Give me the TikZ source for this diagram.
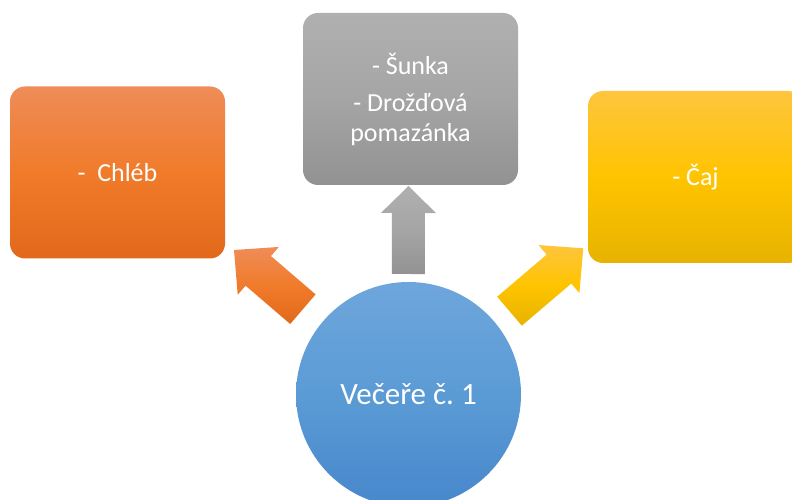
\documentclass[tikz,border=0pt]{standalone}
\usepackage{fontspec}
\setmainfont{Carlito}
\usetikzlibrary{calc}
\frenchspacing

% gradient fills (top / middle / bottom)
\tikzset{
  orangefill/.style={top color=orTop, bottom color=orBot, middle color=orMid},
  grayfill/.style={top color=grTop, bottom color=grBot, middle color=grMid},
  yellowfill/.style={top color=yeTop, bottom color=yeBot, middle color=yeMid},
  bluefill/.style={top color=blTop, bottom color=blBot, middle color=blMid},
  itembox/.style={rounded corners=15pt, minimum width=215pt, minimum height=172pt,
    inner sep=0pt, text=white, align=center, font=\fontsize{26}{30}\selectfont},
  hubcircle/.style={circle, minimum size=225pt, inner sep=0pt, text=white,
    font=\fontsize{31}{37}\selectfont},
}
\definecolor{orTop}{HTML}{EF8C58}
\definecolor{orMid}{HTML}{F07B2A}
\definecolor{orBot}{HTML}{E2691B}
\definecolor{grTop}{HTML}{B0B0B0}
\definecolor{grMid}{HTML}{A5A5A5}
\definecolor{grBot}{HTML}{929292}
\definecolor{yeTop}{HTML}{FEC53E}
\definecolor{yeMid}{HTML}{FFC400}
\definecolor{yeBot}{HTML}{E7B300}
\definecolor{blTop}{HTML}{6EA6DC}
\definecolor{blMid}{HTML}{5B9BD5}
\definecolor{blBot}{HTML}{4787CC}

% block arrow: tail, tip, half shaft width, half head width, head length, fill style
\newcommand\blockarrow[6]{%
  \coordinate (hb) at ($(#2)!#5!(#1)$);
  \shade[#6] ($(#1)!#3!90:(#2)$) -- ($(hb)!#3!90:(#2)$) -- ($(hb)!#4!90:(#2)$)
    -- (#2) -- ($(hb)!#4!-90:(#2)$) -- ($(hb)!#3!-90:(#2)$)
    -- ($(#1)!#3!-90:(#2)$) -- cycle;
}

\begin{document}
\begin{tikzpicture}[x=1pt, y=1pt]
  \useasboundingbox (0,0) rectangle (792,500);
  \fill[white] (0,0) rectangle (792,500);

  % three item boxes
  \node[itembox, orangefill] (bread) at (117.5,327.5) {-\hspace{0.45em}Chléb};
  \node[itembox, grayfill] (ham) at (410.5,401)
    {- Šunka\\[7pt]- Drožďová\\pomazánka};
  \node[itembox, yellowfill] (tea) at (695.5,323) {- Čaj};

  % central circle
  \node[hubcircle, bluefill] (hub) at (408.5,105.5) {Večeře č.\ 1};

  % arrow end points
  \coordinate (oTail) at (302.9,190.8);
  \coordinate (oTip) at (234,250);
  \coordinate (gTail) at (408.3,226);
  \coordinate (gTip) at (408.5,314);
  \coordinate (yTail) at (509.5,188.8);
  \coordinate (yTip) at (583.3,251.7);

  \blockarrow{oTail}{oTip}{19.5pt}{31.5pt}{32pt}{orangefill}
  \blockarrow{gTail}{gTip}{16.5pt}{27.5pt}{27pt}{grayfill}
  \blockarrow{yTail}{yTip}{19pt}{31.5pt}{32pt}{yellowfill}
\end{tikzpicture}
\end{document}
